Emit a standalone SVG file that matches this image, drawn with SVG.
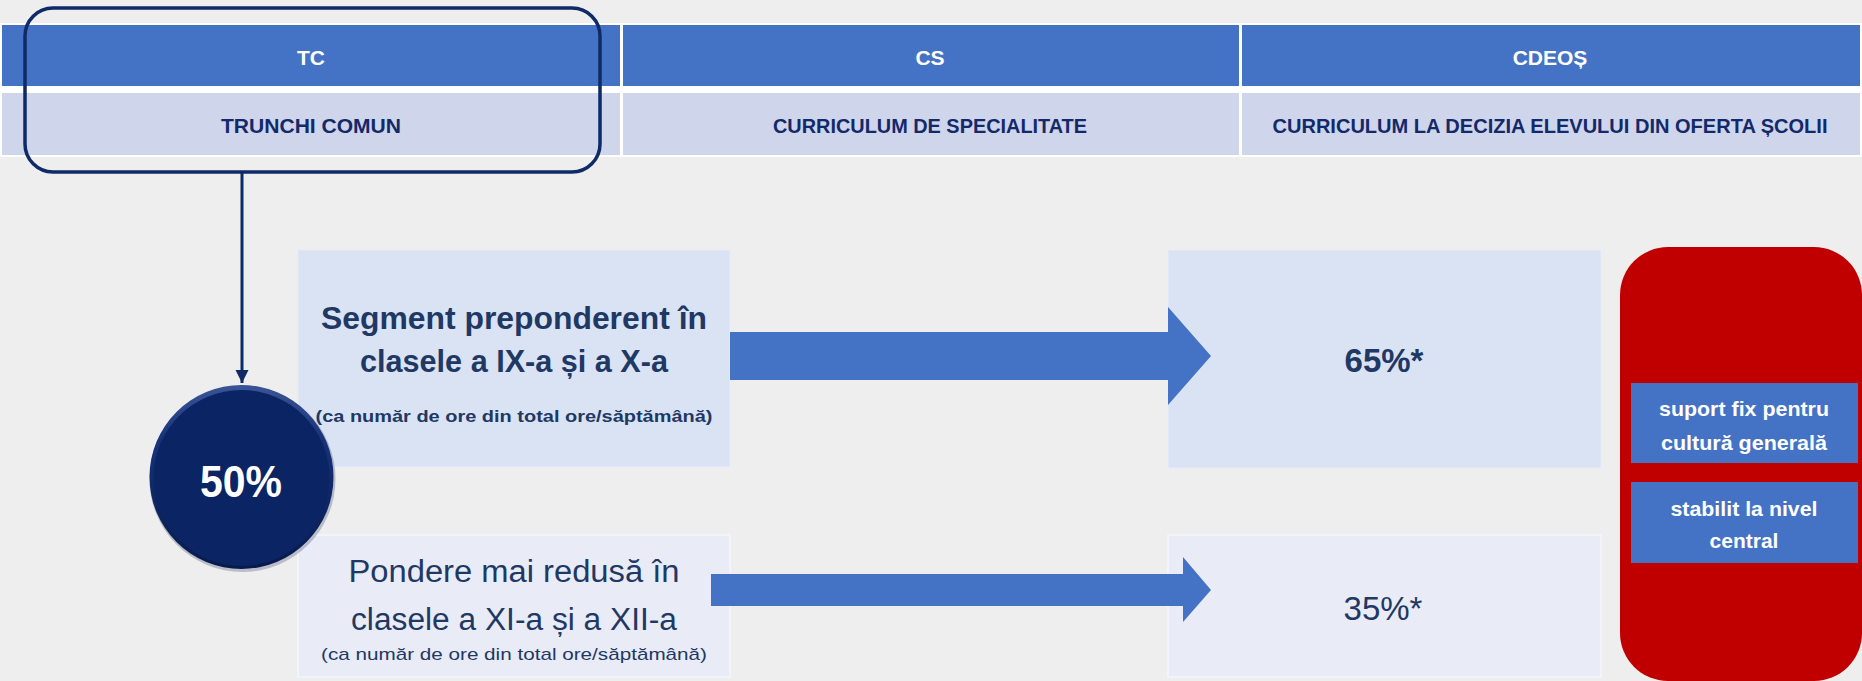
<svg xmlns="http://www.w3.org/2000/svg" width="1862" height="681" viewBox="0 0 1862 681">
  <style>
    .t { font-family: "Liberation Sans", Arial, sans-serif; text-anchor: middle; }
    .hd { font-size: 21px; font-weight: bold; fill: #ffffff; }
    .sub { font-size: 21px; font-weight: bold; fill: #13296a; }
    .big { font-size: 31px; fill: #1f3864; }
    .sm { font-size: 17px; fill: #1f3864; }
    .b { font-weight: bold; }
    .pct { font-size: 33px; fill: #1f3864; }
    .wb { font-size: 21px; font-weight: bold; fill: #ffffff; }
    .blue { fill: #4472c4; }
    .light { fill: #cfd5ea; }
  </style>
  <defs>
    <linearGradient id="rim" x1="0" y1="0" x2="0" y2="1">
      <stop offset="0" stop-color="#3a5596"/>
      <stop offset="0.3" stop-color="#17327a"/>
      <stop offset="1" stop-color="#071a4c"/>
    </linearGradient>
    <marker id="ah" viewBox="0 0 10 10" refX="10" refY="5" markerWidth="4.5" markerHeight="4.5" orient="auto" markerUnits="strokeWidth">
      <path d="M0,0 L10,5 L0,10 Z" fill="#0f2a66"/>
    </marker>
  </defs>

  <rect x="0" y="0" width="1862" height="681" fill="#eeeeee"/>

  <g id="table">
    <rect x="0" y="23" width="1862" height="134" fill="#ffffff"/>
    <rect class="blue" x="2" y="25" width="618" height="61"/>
    <rect class="blue" x="623" y="25" width="616" height="61"/>
    <rect class="blue" x="1242" y="25" width="618" height="61"/>
    <rect class="light" x="2" y="93" width="618" height="62"/>
    <rect class="light" x="623" y="93" width="616" height="62"/>
    <rect class="light" x="1242" y="93" width="618" height="62"/>
    <text class="t hd" x="311" y="65">TC</text>
    <text class="t hd" x="930" y="65">CS</text>
    <text class="t hd" x="1550" y="65">CDEOȘ</text>
    <text class="t sub" x="311" y="133" textLength="180" lengthAdjust="spacingAndGlyphs">TRUNCHI COMUN</text>
    <text class="t sub" x="930" y="133" textLength="314" lengthAdjust="spacingAndGlyphs">CURRICULUM DE SPECIALITATE</text>
    <text class="t sub" x="1550" y="133" textLength="555" lengthAdjust="spacingAndGlyphs">CURRICULUM LA DECIZIA ELEVULUI DIN OFERTA ȘCOLII</text>
  </g>

  <g id="tc-highlight">
    <rect x="25" y="8" width="575" height="164" rx="28" ry="28" fill="none" stroke="#0f2a66" stroke-width="3.5"/>
  </g>

  <g id="seg1-bg">
    <rect x="298" y="250" width="432" height="217" fill="#dae3f3" stroke="#e6ecf8" stroke-width="1"/>
  </g>
  <g id="seg2-bg">
    <rect x="298" y="535" width="432" height="142" fill="#e9ecf6" stroke="#f4f6fb" stroke-width="1.5"/>
  </g>
  <g id="p65">
    <rect x="1168" y="250" width="433" height="218" fill="#dae3f3" stroke="#e6ecf8" stroke-width="1"/>
    <text class="t pct b" x="1384" y="372">65%*</text>
  </g>
  <g id="p35">
    <rect x="1168" y="535" width="433" height="142" fill="#e9ecf6" stroke="#f4f6fb" stroke-width="1.5"/>
    <text class="t pct" x="1383" y="620">35%*</text>
  </g>

  <g id="connectors">
    <line x1="242" y1="172" x2="242" y2="383" stroke="#0f2a66" stroke-width="3" marker-end="url(#ah)"/>
    <path d="M730,332 L1168,332 L1168,307 L1211,356 L1168,405 L1168,380 L730,380 Z" fill="#4472c4"/>
    <path d="M711,574 L1183,574 L1183,557 L1211,590 L1183,622 L1183,606 L711,606 Z" fill="#4472c4"/>
  </g>

  <g id="circle50">
    <circle cx="242.5" cy="479" r="93" fill="#1a2a55" opacity="0.25"/>
    <circle cx="241.5" cy="477" r="92" fill="url(#rim)"/>
    <circle cx="241.5" cy="478" r="88" fill="#0b2463"/>
    <text class="t b" x="241" y="497" font-size="45" fill="#ffffff" textLength="82" lengthAdjust="spacingAndGlyphs">50%</text>
  </g>

  <g id="seg1">
    <text class="t big b" x="514" y="329" textLength="386" lengthAdjust="spacingAndGlyphs">Segment preponderent în</text>
    <text class="t big b" x="514" y="372" textLength="308" lengthAdjust="spacingAndGlyphs">clasele a IX-a și a X-a</text>
    <text class="t sm b" x="514" y="422" textLength="397" lengthAdjust="spacingAndGlyphs">(ca număr de ore din total ore/săptămână)</text>
  </g>
  <g id="seg2">
    <text class="t big" x="514" y="582" textLength="331" lengthAdjust="spacingAndGlyphs">Pondere mai redusă în</text>
    <text class="t big" x="514" y="630" textLength="326" lengthAdjust="spacingAndGlyphs">clasele a XI-a și a XII-a</text>
    <text class="t sm" x="514" y="660" textLength="386" lengthAdjust="spacingAndGlyphs">(ca număr de ore din total ore/săptămână)</text>
  </g>

  <g id="red-panel">
    <rect x="1620" y="247" width="242" height="434" rx="48" ry="48" fill="#c00000"/>
  </g>
  <g id="fix-support">
    <rect class="blue" x="1631" y="383" width="227" height="80"/>
    <text class="t wb" x="1744" y="416" textLength="170" lengthAdjust="spacingAndGlyphs">suport fix pentru</text>
    <text class="t wb" x="1744" y="450" textLength="166" lengthAdjust="spacingAndGlyphs">cultură generală</text>
  </g>
  <g id="central">
    <rect class="blue" x="1631" y="482" width="227" height="81"/>
    <text class="t wb" x="1744" y="516" textLength="147" lengthAdjust="spacingAndGlyphs">stabilit la nivel</text>
    <text class="t wb" x="1744" y="548">central</text>
  </g>
</svg>
